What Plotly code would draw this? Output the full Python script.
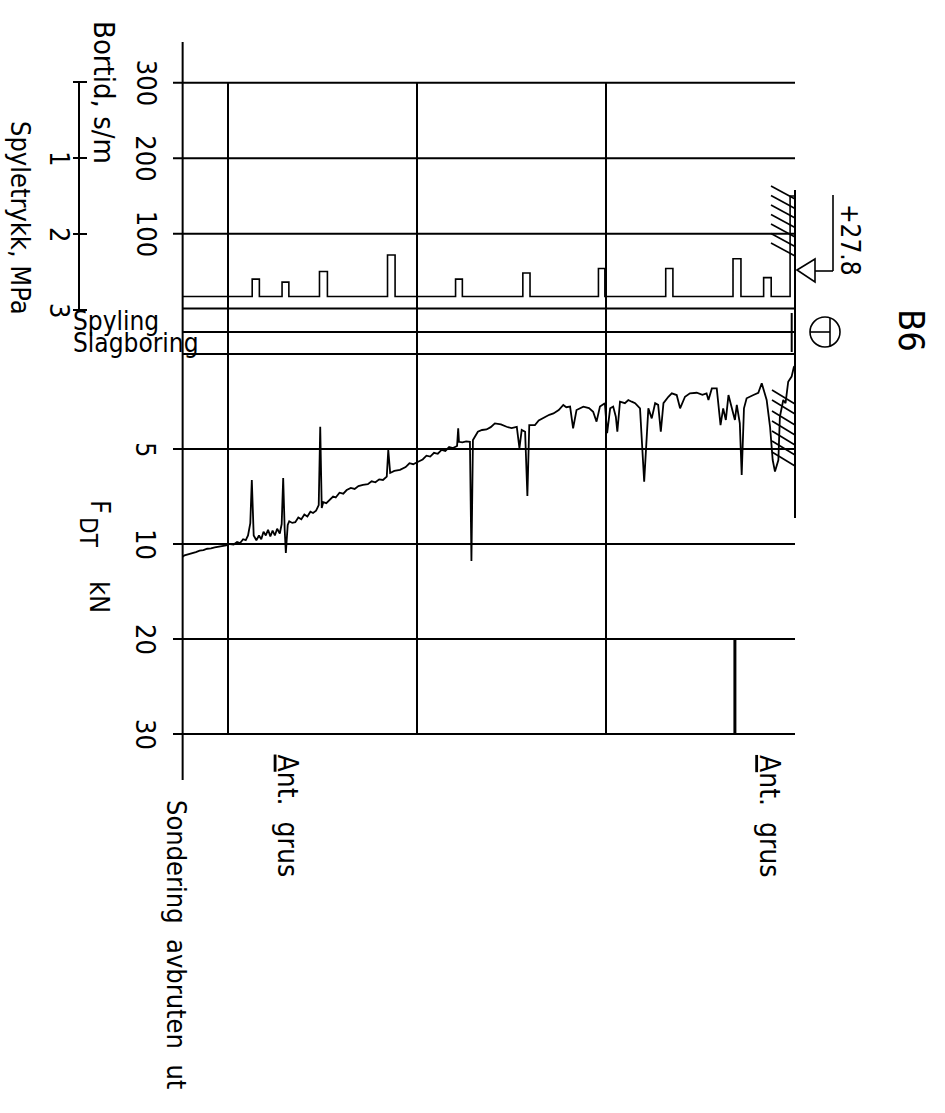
import plotly.graph_objects as go

# ---------------- data ----------------
# Total sounding B6 (depth in m)
depth_end = 16.2
grid_depths = [5, 10, 15]

# Bortid (s/m): base level and rectangular pulses
bortid_base = 17
pulse_start = [0.63, 1.43, 3.23, 5.03, 7.01, 8.80, 10.58, 12.37, 13.39, 14.17]
pulse_end = [0.83, 1.64, 3.42, 5.20, 7.20, 8.98, 10.78, 12.58, 13.57, 14.36]
pulse_value = [42, 67, 54, 54, 48, 40, 72, 50, 36, 40]
bortid_top_depth = 0.13
bortid_top_value = 150
bortid_ticks = [100, 200, 300]

# Spyletrykk scale (MPa)
spyle_ticks = [0, 1, 2, 3]
spyle_labels = ["", "1", "2", "3"]

# F_DT (kN) vs depth
fdt_depth = [0.0, 0.03, 0.09, 0.18, 0.25, 0.31, 0.40, 0.44, 0.53, 0.59, 0.66, 0.75, 0.88, 0.97,
             1.10, 1.28, 1.35, 1.41, 1.46, 1.54, 1.59, 1.67, 1.76, 1.83, 1.90, 1.97, 2.07, 2.20,
             2.29, 2.34, 2.45, 2.60, 2.78, 2.91, 3.04, 3.13, 3.26, 3.35, 3.48, 3.55, 3.62, 3.70,
             3.79, 3.88, 3.99, 4.10, 4.23, 4.32, 4.41, 4.50, 4.63, 4.70, 4.74, 4.81, 4.89, 4.97,
             5.03, 5.16, 5.25, 5.34, 5.45, 5.60, 5.78, 5.87, 5.95, 6.05, 6.13, 6.25, 6.39, 6.50,
             6.66, 6.78, 6.88, 7.03, 7.08, 7.14, 7.23, 7.29, 7.36, 7.50, 7.63, 7.78, 7.94, 8.05,
             8.16, 8.28, 8.39, 8.52, 8.56, 8.60, 8.70, 8.80, 8.89, 8.91, 8.94, 9.05, 9.15, 9.25,
             9.35, 9.45, 9.55, 9.65, 9.75, 9.85, 9.97, 10.10, 10.20, 10.30, 10.45, 10.60, 10.71,
             10.76, 10.80, 10.90, 11.00, 11.10, 11.20, 11.30, 11.43, 11.55, 11.65, 11.75, 11.86,
             11.95, 12.05, 12.15, 12.22, 12.30, 12.40, 12.48, 12.52, 12.56, 12.60, 12.67, 12.75,
             12.82, 12.90, 12.98, 13.06, 13.14, 13.22, 13.30, 13.38, 13.42, 13.47, 13.50, 13.54,
             13.58, 13.63, 13.70, 13.76, 13.82, 13.88, 13.94, 14.00, 14.06, 14.12, 14.18, 14.25,
             14.32, 14.37, 14.41, 14.47, 14.53, 14.60, 14.68, 14.76, 14.85, 14.95, 15.05, 15.15,
             15.25, 15.35, 15.45, 15.55, 15.65, 15.75, 15.85, 15.95, 16.05, 16.15, 16.20]
fdt_value = [0.63, 0.68, 1.19, 1.46, 2.59, 2.42, 3.30, 5.58, 6.19, 5.58, 3.83, 2.42, 1.54, 2.04,
             2.16, 2.33, 2.86, 6.37, 3.65, 2.68, 3.47, 2.86, 2.16, 3.47, 2.86, 3.74, 1.81, 1.81,
             2.42, 2.07, 2.15, 2.04, 2.07, 2.25, 2.86, 2.16, 2.07, 2.25, 2.59, 4.09, 2.68, 2.59,
             3.39, 2.86, 6.72, 2.86, 2.59, 2.51, 2.42, 2.59, 2.51, 4.09, 3.30, 2.77, 2.86, 4.17,
             2.59, 2.77, 3.56, 3.04, 2.85, 2.77, 2.95, 3.91, 2.77, 2.80, 2.68, 2.95, 3.13, 3.20,
             3.39, 3.50, 3.74, 3.74, 7.47, 4.09, 4.00, 4.95, 3.83, 3.90, 3.83, 3.70, 3.65, 3.85,
             3.97, 4.00, 4.09, 4.53, 11.80, 4.62, 4.60, 4.65, 4.62, 3.91, 4.84, 4.95, 4.90, 5.10,
             5.05, 5.25, 5.20, 5.40, 5.35, 5.55, 5.67, 5.80, 5.75, 5.95, 6.10, 6.15, 6.26,
             5.05, 6.45, 6.63, 6.60, 6.75, 6.70, 6.85, 6.89, 6.95, 7.10, 7.05, 7.16,
             7.35, 7.30, 7.55, 7.50, 7.68, 7.85, 7.80, 8.11, 3.83, 7.95, 8.25, 8.37,
             8.30, 8.55, 8.45, 8.70, 8.60, 8.85, 8.89, 8.80, 9.00, 10.95, 9.26, 6.53,
             8.95, 9.45, 9.20, 9.55, 9.30, 9.60, 9.25, 9.55, 9.35, 9.75, 9.55, 9.80,
             9.55, 6.63, 8.90, 9.55, 9.80, 9.75, 9.95, 9.90, 10.05, 10.00, 10.15, 10.20,
             10.30, 10.35, 10.45, 10.50, 10.65, 10.70, 10.85, 10.95, 11.10, 11.20, 11.35]
fdt_ticks = [5, 10, 20, 30]

# thick marker line (depth, F range)
marker_depth = 1.59
marker_f = [20, 30]

# layer notes
note_depths = [0.66, 13.4]
note_text = "<u>A</u>nt.  grus"
level_text = "+27.8"
title_text = "B6"

# ---------------- helpers ----------------
W, H = 945, 1113
PX_PER_M = 37.8
X0 = 795.0
B0_PX = 309.3      # pixel row of bortid 0
B_PX = 0.755       # px per s/m
P0_PX, P_PX = 82.0, 76.0   # spyletrykk 0 row, px per MPa
UPPER_BOTTOM = 340.0       # bottom of upper panel (px)


def xd(xp):  # pixel x -> depth
    return (X0 - xp) / PX_PER_M


def yp(ypx):  # pixel y -> paper
    return 1 - ypx / H


def ft(f):  # F_DT scale: linear 0-10, half scale 10-30
    return f if f <= 10 else 10 + (f - 10) / 2


FONT = "Liberation Sans Narrow, DejaVu Sans Condensed, Roboto Condensed, Liberation Sans, sans-serif"
BLK = "black"

fig = go.Figure()

# bortid step profile
bd, bv = [depth_end, ], [bortid_base]
for s, e, v in sorted(zip(pulse_start, pulse_end, pulse_value), key=lambda t: -t[1]):
    bd += [e, e, s, s]
    bv += [bortid_base, v, v, bortid_base]
bd += [bortid_top_depth, bortid_top_depth, 0]
bv += [bortid_base, bortid_top_value, bortid_top_value]
fig.add_trace(go.Scatter(x=bd, y=bv, mode="lines", line=dict(color=BLK, width=1.6),
                         xaxis="x", yaxis="y", hoverinfo="skip", showlegend=False))

# F_DT curve
fig.add_trace(go.Scatter(x=fdt_depth, y=[ft(v) for v in fdt_value], mode="lines",
                         line=dict(color=BLK, width=1.8), xaxis="x", yaxis="y2",
                         hoverinfo="skip", showlegend=False))

# marker line
fig.add_trace(go.Scatter(x=[marker_depth, marker_depth], y=[ft(v) for v in marker_f], mode="lines",
                         line=dict(color=BLK, width=3), xaxis="x", yaxis="y2",
                         hoverinfo="skip", showlegend=False))

shapes = []


def line(x0, y0, x1, y1, xref="x", yref="paper", w=2):
    shapes.append(dict(type="line", x0=x0, y0=y0, x1=x1, y1=y1, xref=xref, yref=yref,
                       line=dict(color=BLK, width=w)))


left_tick = xd(173)
# bortid gridlines
for b in bortid_ticks:
    line(left_tick, b, 0, b, yref="y")
# F gridlines
for f in fdt_ticks:
    line(left_tick, ft(f), 0, ft(f), yref="y2")
# vertical depth gridlines
for d in grid_depths:
    line(d, yp(82), d, yp(733))
# left end line and ground line
line(depth_end, yp(42), depth_end, yp(780))
line(0, yp(190), 0, yp(518))
# bands Spyling / Slagboring
for ypx in [308.5, 332, 354]:
    line(depth_end, yp(ypx), 0, yp(ypx))
line(xd(791.7), yp(313), xd(791.7), yp(352))

# Spyletrykk scale axis (y3)
line(xd(79), 0, xd(79), 3, yref="y3")
for p in spyle_ticks:
    line(xd(73), p, xd(87), p, yref="y3")

# ground hatch near level marker and near top of F curve
for ys in [186, 195.5, 205, 214.5, 224, 233.5, 243]:
    line(xd(771), yp(ys), xd(795), yp(ys + 13), w=1.6)
for ys in [390, 400, 411, 421, 431, 441, 452]:
    line(xd(772), yp(ys), xd(795), yp(ys + 14), w=1.6)

# level marker
shapes.append(dict(type="path", xref="paper", yref="paper",
                   path=f"M {797/W} {yp(270)} L {815/W} {yp(259)} L {815/W} {yp(282)} Z",
                   line=dict(color=BLK, width=1.6)))
line(xd(815), yp(271), xd(833), yp(271), w=1.6)
line(xd(833), yp(271), xd(833), yp(195), w=1.6)

# sounding symbol
shapes.append(dict(type="circle", xref="paper", yref="paper", x0=810 / W, x1=840 / W,
                   y0=yp(347), y1=yp(317), line=dict(color=BLK, width=1.6)))
line(xd(810), yp(332), xd(830), yp(332), w=1.6)
line(xd(830), yp(318), xd(830), yp(346), w=1.6)

fig.update_layout(shapes=shapes)

ann = []


def text(t, xpx, ypx, size=24, angle=90, xanchor="center"):
    ann.append(dict(text=t, x=xpx / W, y=yp(ypx), xref="paper", yref="paper", showarrow=False,
                    textangle=angle, xanchor=xanchor, yanchor="middle",
                    font=dict(family=FONT, size=size, color=BLK)))


def dtext(t, x, y, yref, size=27):
    ann.append(dict(text=t, x=x, y=y, xref="x", yref=yref, showarrow=False, textangle=90,
                    xanchor="center", yanchor="middle",
                    font=dict(family=FONT, size=size, color=BLK)))


text(title_text, 912, 330, size=36)
text(level_text, 850, 240, size=26)
text("Bortid, s/m", 104, 92, size=29)
text("Spyletrykk, MPa", 20, 218, size=27)
for b in bortid_ticks:
    dtext(str(b), xd(146), b, "y")
for p, lab in zip(spyle_ticks, spyle_labels):
    if lab:
        dtext(lab, xd(60), p, "y3")
for f in fdt_ticks:
    dtext(str(f), xd(146), ft(f), "y2")
text("F", 101, 507, size=27)
text("DT", 88, 532, size=24)
text("kN", 100, 597, size=27)
text("Spyling", 71, 321, size=26, angle=0, xanchor="left")
text("Slagboring", 71, 343, size=26, angle=0, xanchor="left")
for d in note_depths:
    dtext(note_text, d, yp(816), "paper", size=28)
text("Sondering  avbruten  ut", 177, 944, size=27)

fig.update_layout(annotations=ann)

fig.update_layout(
    width=W, height=H, margin=dict(l=0, r=0, t=0, b=0),
    paper_bgcolor="white", plot_bgcolor="rgba(0,0,0,0)",
    xaxis=dict(domain=[0, 1], range=[X0 / PX_PER_M, (X0 - W) / PX_PER_M], visible=False, fixedrange=True),
    yaxis=dict(domain=[yp(UPPER_BOTTOM), 1], range=[(B0_PX - UPPER_BOTTOM) / B_PX, B0_PX / B_PX],
               visible=False, fixedrange=True, anchor="x"),
    yaxis2=dict(domain=[0, yp(354)], range=[(H - 354) / 19, 0], visible=False, fixedrange=True, anchor="x"),
    yaxis3=dict(range=[(UPPER_BOTTOM - P0_PX) / P_PX, -P0_PX / P_PX], visible=False,
                fixedrange=True, anchor="x", overlaying="y"),
    showlegend=False,
)

fig.write_html("out.html")
